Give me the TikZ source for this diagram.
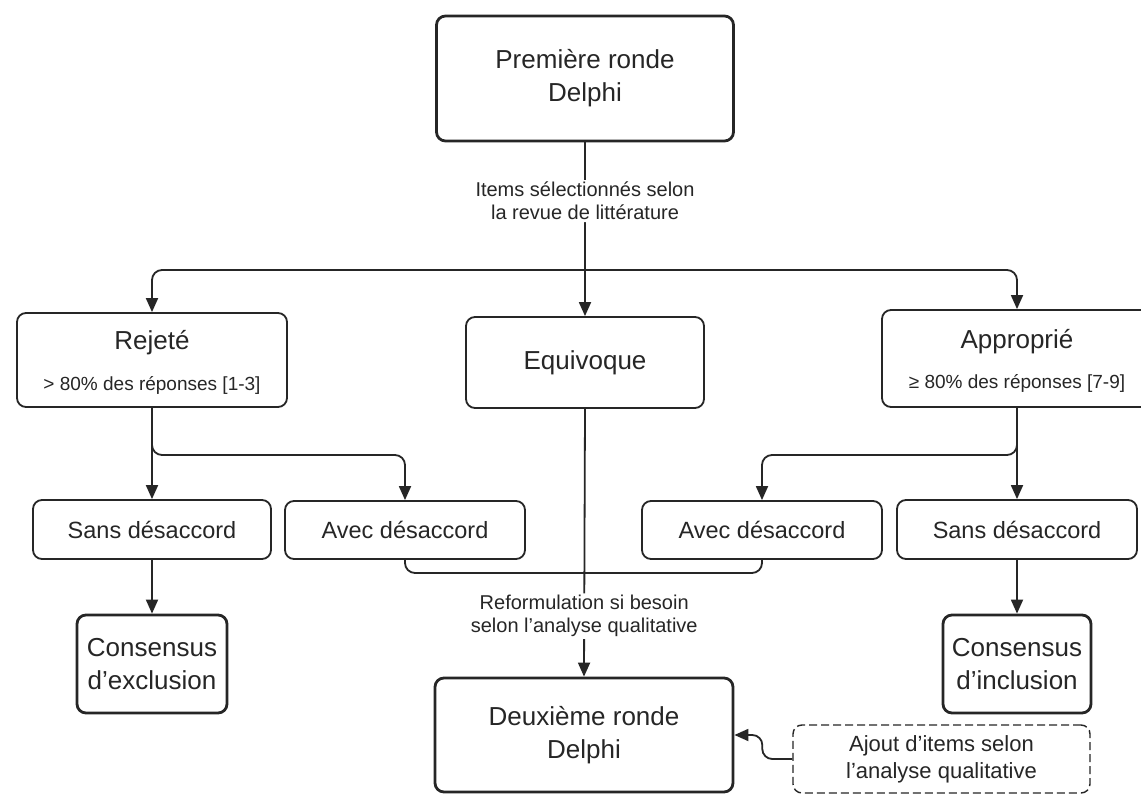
\documentclass[tikz,border=0pt]{standalone}
\usepackage{fontspec}
\setmainfont{Liberation Sans}
\usetikzlibrary{arrows.meta,calc}
\begin{document}
\begin{tikzpicture}[x=1pt,y=-1pt,
  box/.style={draw=black!85, line width=1.8pt, rounded corners=9pt, align=center, text=black!85, inner sep=0pt},
  bigbox/.style={box, line width=2.8pt},
  dbox/.style={box, line width=1.4pt, dash pattern=on 8pt off 4pt},
  conn/.style={draw=black!85, line width=1.8pt, rounded corners=10pt},
  arr/.style={conn, -{Triangle[length=14pt,width=12pt]}},
  lbl/.style={fill=white, align=center, inner sep=2pt, text=black!85, font=\fontsize{20}{23}\selectfont},
  txt/.style={align=center, inner sep=0pt, text=black!85},
  fbig/.style={font=\fontsize{26}{33}\selectfont},
  fmid/.style={font=\fontsize{23.5}{28}\selectfont},
  fsub/.style={font=\fontsize{19}{22}\selectfont},
  faj/.style={font=\fontsize{22}{27}\selectfont},
]
\fill[white] (0,0) rectangle (1141,794);
\useasboundingbox (0,0) rectangle (1141,794);

% boxes
\node[bigbox, fbig, minimum width=297pt, minimum height=125pt] (p1) at (585,78.5) {Première ronde\\Delphi};
\node[box, minimum width=270pt, minimum height=94pt] (rej) at (152,360) {};
\node[txt, fbig] (rejT) at (152,343) {Rejeté};
\node[txt, fsub] (rejS) at (152,385) {> 80\% des réponses [1-3]};
\node[box, fbig, minimum width=238pt, minimum height=91pt] (equ) at (585,362.5) {Equivoque};
\node[box, minimum width=270pt, minimum height=97pt] (app) at (1017,358.5) {};
\node[txt, fbig] (appT) at (1017,342) {Approprié};
\node[txt, fsub] (appS) at (1017,383) {≥ 80\% des réponses [7-9]};

\node[box, fmid, minimum width=238pt, minimum height=59pt] (sd1) at (152,529.5) {Sans désaccord};
\node[box, fmid, minimum width=240pt, minimum height=58pt] (av1) at (405,530) {Avec désaccord};
\node[box, fmid, minimum width=240pt, minimum height=58pt] (av2) at (762,530) {Avec désaccord};
\node[box, fmid, minimum width=240pt, minimum height=59pt] (sd2) at (1017,529.5) {Sans désaccord};

\node[bigbox, fbig, minimum width=150pt, minimum height=98pt] (cex) at (152,664) {Consensus\\d'exclusion};
\node[bigbox, fbig, minimum width=148pt, minimum height=98pt] (cin) at (1017,664) {Consensus\\d'inclusion};
\node[bigbox, fbig, minimum width=298pt, minimum height=114pt] (deux) at (584,735) {Deuxième ronde\\Delphi};
\node[dbox, faj, minimum width=297pt, minimum height=68pt] (aj) at (941.5,759) {Ajout d'items selon\\l'analyse qualitative};

% connectors
\coordinate (j1) at (585,270);
\draw[conn] (p1.south) -- node[lbl, pos=0.46] (lab1) {Items sélectionnés selon\\la revue de littérature} (j1);
\draw[arr] (j1) -| (rej.north);
\draw[arr] (j1) -- (equ.north);
\draw[arr] (j1) -| (app.north);

\coordinate (b1) at (152,455);
\coordinate (b2) at (1017,455);
\draw[arr] (rej.south) -- (sd1.north);
\draw[arr] (rej.south) -- (b1) -| (av1.north);
\draw[arr] (app.south) -- (sd2.north);
\draw[arr] (app.south) -- (b2) -| (av2.north);

\draw[arr] (sd1.south) -- (cex.north);
\draw[arr] (sd2.south) -- (cin.north);

\coordinate (m) at (585,573);
\draw[conn] (av1.south) |- (m);
\draw[conn] (av2.south) |- (m);
\draw[arr] (equ.south) -- node[lbl, pos=0.774] (lab2) {Reformulation si besoin\\selon l'analyse qualitative} (deux.north);

\draw[arr] (aj.west) -- ++(-30,0) |- (deux.east);
\end{tikzpicture}
\end{document}
